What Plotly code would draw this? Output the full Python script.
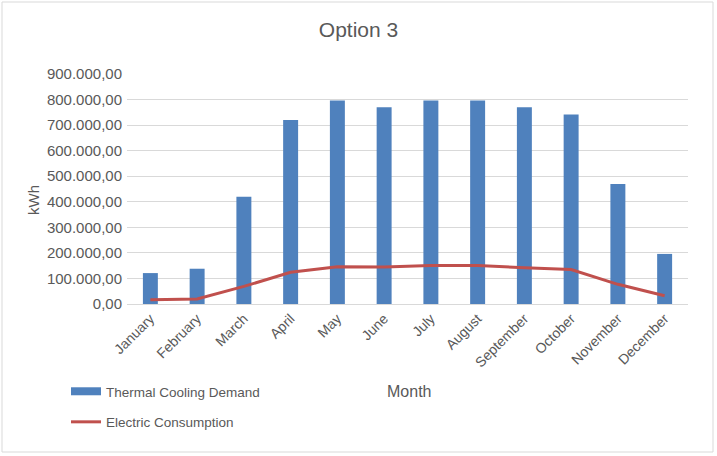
import plotly.graph_objects as go

months = ["January", "February", "March", "April", "May", "June", "July",
          "August", "September", "October", "November", "December"]
thermal_cooling = [121000, 138000, 420000, 720000, 796000, 770000, 796000,
                   796000, 770000, 742000, 470000, 196000]
electric = [17000, 20000, 69000, 124000, 146000, 145000, 151000,
            151000, 142000, 135000, 77000, 32000]
y_ticks = [0, 100000, 200000, 300000, 400000, 500000, 600000, 700000, 800000, 900000]
y_tick_text = ["0,00", "100.000,00", "200.000,00", "300.000,00", "400.000,00",
               "500.000,00", "600.000,00", "700.000,00", "800.000,00", "900.000,00"]

W, H = 717, 456
L, R, T, B = 127, 29, 74, 152
pw, ph = W - L - R, H - T - B

def px(x):
    return (x - L) / pw

def py(y):
    return (H - B - y) / ph

font_fam = "Liberation Sans, Arial"
gray = "#595959"
blue = "#4f81bd"
red = "#c0504d"

fig = go.Figure()
fig.add_trace(go.Bar(x=months, y=thermal_cooling, name="Thermal Cooling Demand",
                     marker=dict(color=blue, line=dict(width=0)),
                     showlegend=False))
fig.add_trace(go.Scatter(x=months, y=electric, name="Electric Consumption", mode="lines",
                         line=dict(color=red, width=3), showlegend=False))
# legend entries (wide swatches like the original)
fig.add_trace(go.Scatter(x=[months[0]], y=[None], name="Thermal Cooling Demand", mode="lines",
                         line=dict(color=blue, width=8), legendgroup="a", hoverinfo="skip"))
fig.add_trace(go.Scatter(x=[months[0]], y=[None], name="Electric Consumption", mode="lines",
                         line=dict(color=red, width=3), legendgroup="b", hoverinfo="skip"))

fig.update_layout(
    width=W, height=H,
    margin=dict(l=L, r=R, t=T, b=B, autoexpand=False),
    paper_bgcolor="white", plot_bgcolor="white",
    bargap=0.68,
    font=dict(family=font_fam, color=gray, size=14),
    title=dict(text="Option 3", x=0.5, xref="container", xanchor="center",
               y=1 - 30 / H, yanchor="middle",
               font=dict(size=21, color=gray, family=font_fam)),
    showlegend=True,
    legend=dict(orientation="v", x=px(66), y=py(376), xanchor="left", yanchor="top",
                traceorder="grouped", tracegroupgap=10,
                font=dict(size=13.5, color=gray, family=font_fam),
                bgcolor="rgba(0,0,0,0)"),
    xaxis=dict(tickangle=-45, showgrid=False, showline=True, linecolor="#d9d9d9",
               ticks="", ticklabelstandoff=0,
               tickfont=dict(size=14, color=gray), fixedrange=True),
    yaxis=dict(range=[0, 900000], tickvals=y_ticks, ticktext=y_tick_text,
               showgrid=True, gridcolor="#d9d9d9", gridwidth=1, zeroline=False,
               showline=False, ticks="", ticklabelstandoff=4,
               tickfont=dict(size=15, color=gray), fixedrange=True),
    annotations=[
        dict(text="Month", x=px(409), y=py(391), xref="paper", yref="paper",
             showarrow=False, xanchor="center", yanchor="middle",
             font=dict(size=16, color=gray, family=font_fam)),
        dict(text="kWh", x=px(33), y=py(200), xref="paper", yref="paper",
             showarrow=False, xanchor="center", yanchor="middle", textangle=-90,
             font=dict(size=15, color=gray, family=font_fam)),
    ],
    shapes=[dict(type="rect", xref="paper", yref="paper",
                 x0=px(2), x1=px(713), y0=py(452), y1=py(2),
                 line=dict(color="#d9d9d9", width=1), fillcolor="rgba(0,0,0,0)",
                 layer="below")],
)

fig.write_html("out.html", config={"displayModeBar": False},
               post_script="document.body.style.margin='0px';")
